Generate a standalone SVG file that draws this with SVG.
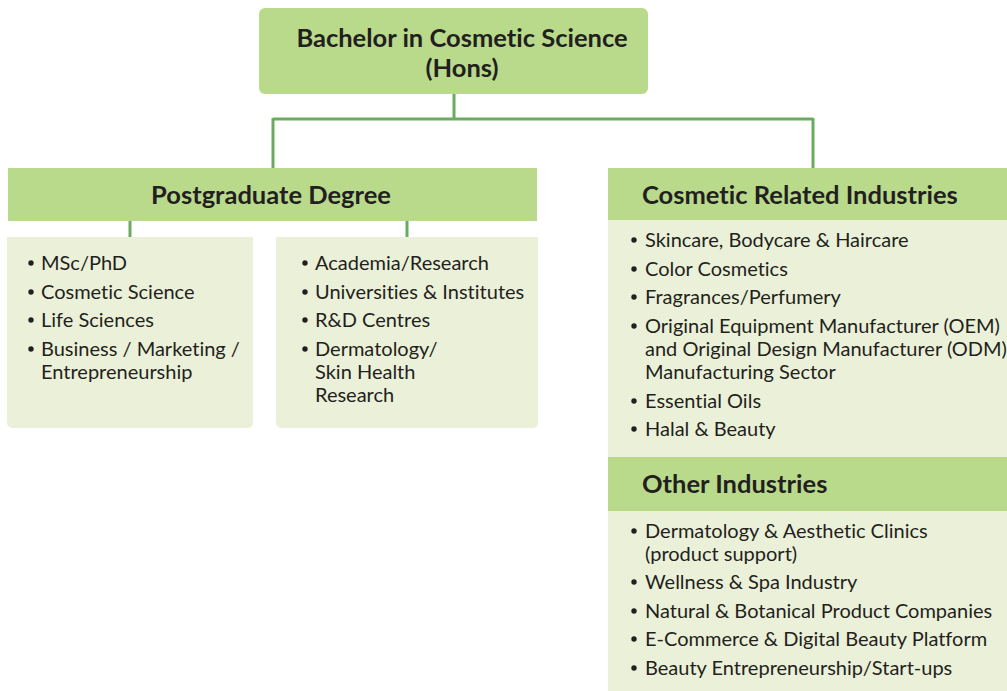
<svg xmlns="http://www.w3.org/2000/svg" width="1007" height="691" viewBox="0 0 1007 691">
  <style>
    .head { fill: #b9da8b; }
    .body { fill: #ebf1d8; }
    .link { fill: none; stroke: #6aab5f; stroke-width: 3; }
    text { font-variant-ligatures: none; }
    .title { font-family: Lato, "Liberation Sans", sans-serif; font-weight: 700; font-size: 25.5px; fill: #231f20; }
    .item { font-family: Lato, "Liberation Sans", sans-serif; font-size: 20px; fill: #231f20; }
    .dot { fill: #231f20; }
  </style>
  <defs>
    <circle id="bullet" class="dot" r="2.7"/>
  </defs>
  <rect width="1007" height="691" fill="#ffffff"/>

  <!-- connectors -->
  <g id="connectors">
    <path class="link" d="M454 94 V119 M273 119 H813 M273 118 V168 M813 118 V168"/>
    <path class="link" d="M130 221 V237 M407 221 V237"/>
  </g>

  <!-- top node -->
  <g id="bachelor">
    <rect class="head" x="259" y="8" width="389" height="86" rx="6"/>
    <text class="title" x="462" y="47" text-anchor="middle">Bachelor in Cosmetic Science</text>
    <text class="title" x="462" y="77" text-anchor="middle">(Hons)</text>
  </g>

  <!-- postgraduate branch -->
  <g id="postgraduate">
    <rect class="head" x="8" y="168" width="529" height="53"/>
    <text class="title" x="271" y="204" text-anchor="middle">Postgraduate Degree</text>
  </g>

  <g id="pg-studies">
    <path class="body" d="M7 237 H253 V422 Q253 428 247 428 H13 Q7 428 7 422 Z"/>
    <use href="#bullet" x="31" y="263"/>
    <use href="#bullet" x="31" y="292"/>
    <use href="#bullet" x="31" y="320"/>
    <use href="#bullet" x="31" y="349"/>
    <text class="item" x="41" y="270">MSc/PhD</text>
    <text class="item" x="41" y="299">Cosmetic Science</text>
    <text class="item" x="41" y="327">Life Sciences</text>
    <text class="item" x="41" y="356">Business / Marketing /</text>
    <text class="item" x="41" y="379">Entrepreneurship</text>
  </g>

  <g id="pg-careers">
    <path class="body" d="M276 237 H538 V422 Q538 428 532 428 H282 Q276 428 276 422 Z"/>
    <use href="#bullet" x="305" y="263"/>
    <use href="#bullet" x="305" y="292"/>
    <use href="#bullet" x="305" y="320"/>
    <use href="#bullet" x="305" y="349"/>
    <text class="item" x="315" y="270">Academia/Research</text>
    <text class="item" x="315" y="299">Universities &amp; Institutes</text>
    <text class="item" x="315" y="327">R&amp;D Centres</text>
    <text class="item" x="315" y="356">Dermatology/</text>
    <text class="item" x="315" y="379">Skin Health</text>
    <text class="item" x="315" y="402">Research</text>
  </g>

  <!-- industry branch -->
  <g id="cosmetic-industries">
    <rect class="head" x="608" y="168" width="399" height="52"/>
    <rect class="body" x="608" y="220" width="399" height="237"/>
    <text class="title" x="642" y="204">Cosmetic Related Industries</text>
    <use href="#bullet" x="634" y="240"/>
    <use href="#bullet" x="634" y="269"/>
    <use href="#bullet" x="634" y="297"/>
    <use href="#bullet" x="634" y="326"/>
    <use href="#bullet" x="634" y="401"/>
    <use href="#bullet" x="634" y="429"/>
    <text class="item" x="645" y="247">Skincare, Bodycare &amp; Haircare</text>
    <text class="item" x="645" y="276">Color Cosmetics</text>
    <text class="item" x="645" y="304">Fragrances/Perfumery</text>
    <text class="item" x="645" y="333">Original Equipment Manufacturer (OEM)</text>
    <text class="item" x="645" y="356">and Original Design Manufacturer (ODM)</text>
    <text class="item" x="645" y="379">Manufacturing Sector</text>
    <text class="item" x="645" y="408">Essential Oils</text>
    <text class="item" x="645" y="436">Halal &amp; Beauty</text>
  </g>

  <g id="other-industries">
    <rect class="head" x="608" y="457" width="399" height="54"/>
    <rect class="body" x="608" y="511" width="399" height="180"/>
    <text class="title" x="642" y="493">Other Industries</text>
    <use href="#bullet" x="634" y="531"/>
    <use href="#bullet" x="634" y="582"/>
    <use href="#bullet" x="634" y="611"/>
    <use href="#bullet" x="634" y="639"/>
    <use href="#bullet" x="634" y="668"/>
    <text class="item" x="645" y="538">Dermatology &amp; Aesthetic Clinics</text>
    <text class="item" x="645" y="561">(product support)</text>
    <text class="item" x="645" y="589">Wellness &amp; Spa Industry</text>
    <text class="item" x="645" y="618">Natural &amp; Botanical Product Companies</text>
    <text class="item" x="645" y="646">E-Commerce &amp; Digital Beauty Platform</text>
    <text class="item" x="645" y="675">Beauty Entrepreneurship/Start-ups</text>
  </g>
</svg>
